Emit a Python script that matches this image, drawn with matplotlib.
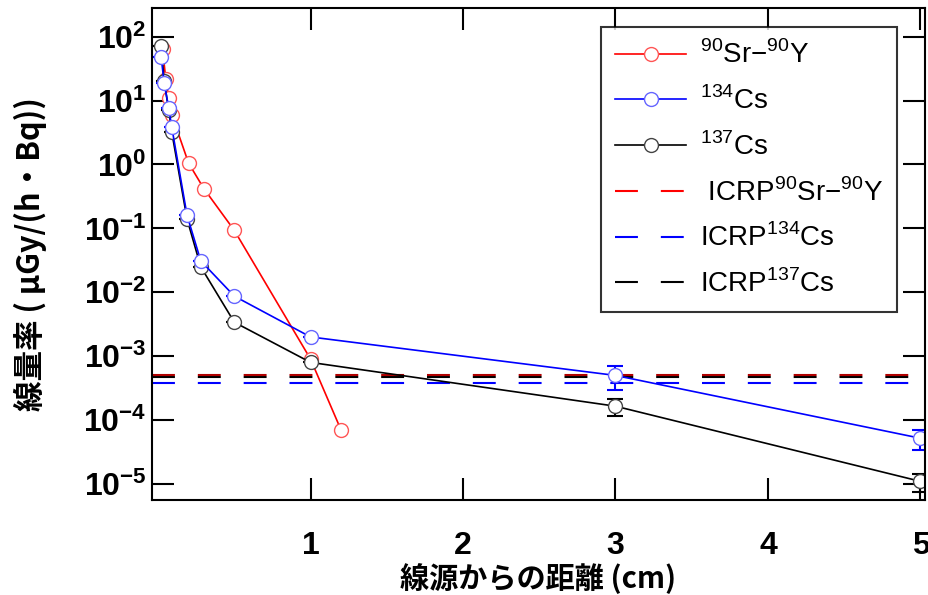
import numpy as np
import matplotlib
matplotlib.use('Agg')
import matplotlib.pyplot as plt
from matplotlib.lines import Line2D

plt.rcParams['font.family'] = ['Liberation Sans', 'Noto Sans CJK JP', 'DejaVu Sans']
plt.rcParams['mathtext.fontset'] = 'custom'
plt.rcParams['mathtext.rm'] = 'Liberation Sans'

# data: distance (cm) vs dose rate (uGy/(h*Bq))
x_sr = [0.03, 0.05, 0.07, 0.09, 0.2, 0.3, 0.5, 1.0, 1.2]
y_sr = [63, 22, 11, 6.0, 1.05, 0.42, 0.093, 9e-4, 7e-5]

x_cs134 = [0.02, 0.04, 0.07, 0.09, 0.19, 0.28, 0.5, 1.0, 3.0, 5.0]
y_cs134 = [48, 19, 7.6, 3.8, 0.16, 0.031, 0.0087, 0.002, 5e-4, 5.2e-5]
e_cs134 = [0, 0, 0, 0, 0, 0, 0, 0, 2e-4, 1.8e-5]

x_cs137 = [0.02, 0.04, 0.07, 0.09, 0.19, 0.28, 0.5, 1.0, 3.0, 5.0]
y_cs137 = [72, 20, 7.0, 3.2, 0.14, 0.025, 0.0034, 8e-4, 1.65e-4, 1.1e-5]
e_cs137 = [0, 0, 0, 0, 0, 0, 0, 0, 5e-5, 3.5e-6]

icrp_sr = 5.1e-4
icrp_cs134 = 3.8e-4
icrp_cs137 = 4.8e-4

labels = ['$^{90}$Sr$-^{90}$Y', '$^{134}$Cs', '$^{137}$Cs',
          ' ICRP$^{90}$Sr$-^{90}$Y', 'ICRP$^{134}$Cs', 'ICRP$^{137}$Cs']

fig = plt.figure(figsize=(9.29, 5.95), dpi=100)
ax = fig.add_axes([0.1636, 0.1597, 0.8321, 0.827])

dash = (0, (11, 11))
mk = dict(marker='o', ms=10, mfc='white', lw=1.2)
ax.axhline(icrp_cs137, color='black', ls=dash, lw=1.5, zorder=1)
ax.axhline(icrp_sr, color='#b00000', ls=dash, lw=1.5, zorder=1)
ax.axhline(icrp_cs134, color='blue', ls=dash, lw=1.5, zorder=1)

ax.errorbar(x_cs137, y_cs137, yerr=e_cs137, color='black', mec='#444444',
            capsize=6, elinewidth=1.5, capthick=1.5, **mk)
ax.errorbar(x_cs134, y_cs134, yerr=e_cs134, color='blue', mec='#6666ff',
            capsize=6, elinewidth=1.5, capthick=1.5, **mk)
ax.plot(x_sr, y_sr, color='red', mec='#ff5555', **mk)

ax.set_yscale('log')
ax.set_xlim(-0.04, 5.03)
ax.set_ylim(10**-5.25, 10**2.45)
ax.set_xticks([1, 2, 3, 4, 5])
ax.set_yticks([1e2, 1e1, 1e0, 1e-1, 1e-2, 1e-3, 1e-4, 1e-5])
ax.yaxis.set_minor_locator(matplotlib.ticker.NullLocator())
ax.tick_params(direction='in', length=16, width=1.5, top=True, right=True)
ax.tick_params(axis='x', pad=22)
ax.tick_params(axis='y', pad=4)
for lab in ax.get_xticklabels() + ax.get_yticklabels():
    lab.set_fontsize(23)
    lab.set_fontweight('bold')

for s in ax.spines.values():
    s.set_linewidth(1.5)

ax.set_xlabel('線源からの距離 (cm)', fontsize=21, fontweight='bold',
              family=['Noto Sans CJK JP', 'DejaVu Sans'], labelpad=2)
ax.set_ylabel('線量率 ( μGy/(h・Bq))', fontsize=22, fontweight='bold',
              family=['Noto Sans CJK JP', 'DejaVu Sans'], labelpad=26)

handles = [
    Line2D([], [], color='red', mec='#ff5555', **mk),
    Line2D([], [], color='blue', mec='#6666ff', **mk),
    Line2D([], [], color='black', mec='#444444', **mk),
    Line2D([], [], color='red', ls=dash, lw=1.5),
    Line2D([], [], color='blue', ls=dash, lw=1.5),
    Line2D([], [], color='black', ls=dash, lw=1.5),
]
leg = ax.legend(handles, labels, loc='upper right',
                bbox_to_anchor=(0.964, 0.961), fontsize=20, frameon=True, fancybox=False,
                edgecolor='black', handlelength=2.55, handletextpad=0.5,
                labelspacing=0.62, borderpad=0.5, borderaxespad=0)
leg.get_frame().set_linewidth(1.5)

fig.savefig('out.png', dpi=100)
